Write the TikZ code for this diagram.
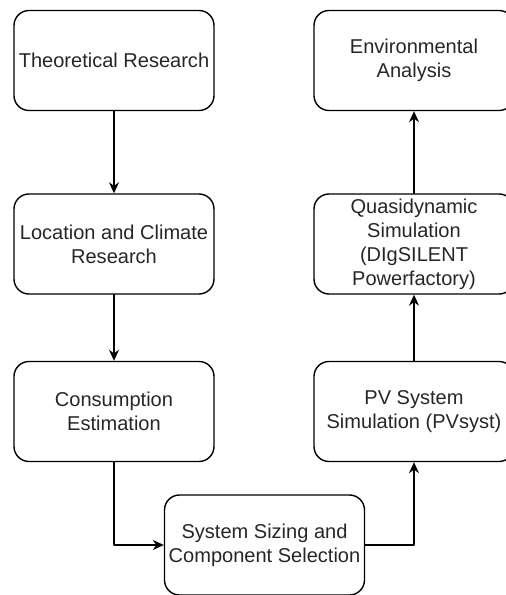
\documentclass[tikz,border=0pt]{standalone}
\usepackage{fontspec}
\setmainfont{Liberation Sans}
\usetikzlibrary{arrows.meta}
\tikzset{
	stage/.style={draw, rounded corners=0.3cm, line width=0.8pt, minimum width=4cm, minimum height=2cm, align=center, text=black!85, inner sep=1pt},
}
\begin{document}
\begin{tikzpicture}[>={Stealth[length=2.2mm,width=2mm]}, font=\fontsize{11.4}{13.7}\selectfont, line join=round, line cap=round]
	\useasboundingbox (0,0) rectangle (10.1,-11.9);
	\path
	(2.28,-1.21)node[stage](theo){Theoretical Research}
	(2.28,-4.88)node[stage](loc){Location and Climate\\Research}
	(2.28,-8.23)node[stage](cons){Consumption\\Estimation}
	(5.29,-10.9)node[stage](size){System Sizing and\\Component Selection}
	(8.28,-8.23)node[stage](pv){PV System\\Simulation (PVsyst)}
	(8.28,-4.88)node[stage](quasi){Quasidynamic\\Simulation\\(DIgSILENT\\Powerfactory)}
	(8.28,-1.21)node[stage](env){Environmental\\Analysis}
	;
	\foreach \a/\b in {theo/loc,loc/cons,pv/quasi,quasi/env} \draw[->,line width=0.8pt](\a)--(\b);
	\draw[->,line width=0.8pt](cons.south)|-(size.west);
	\draw[->,line width=0.8pt](size.east)-|(pv.south);
\end{tikzpicture}
\end{document}
